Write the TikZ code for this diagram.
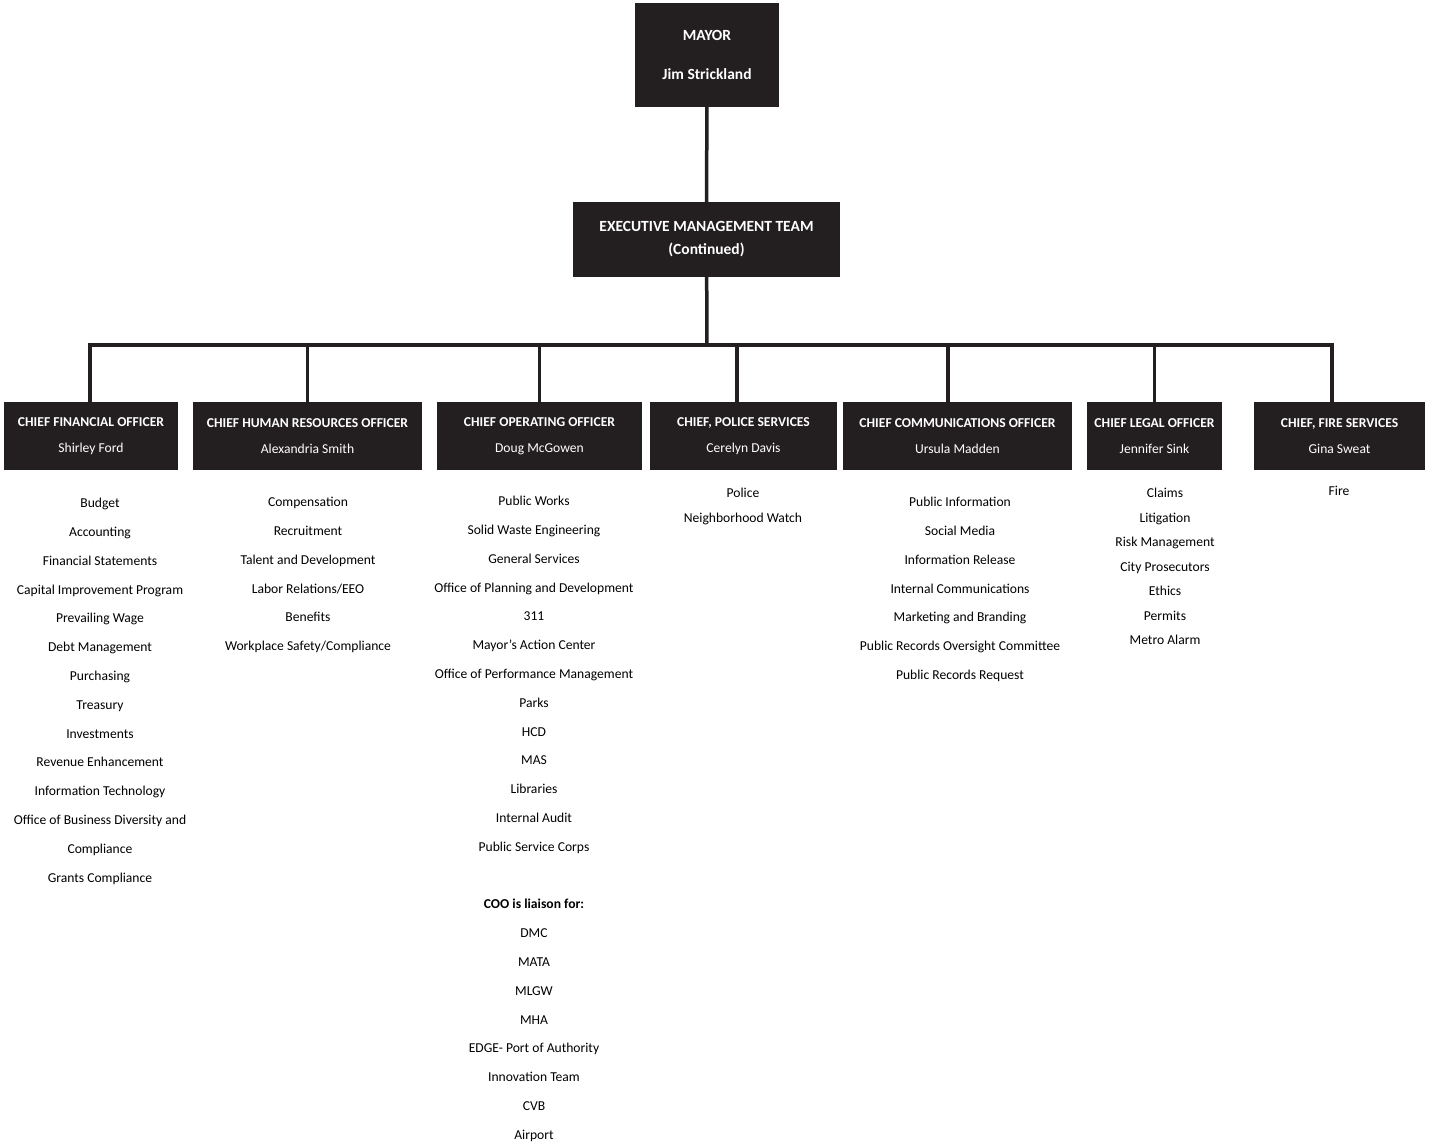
\documentclass[tikz,border=0pt]{standalone}
\usepackage{fontspec}
\setmainfont{Carlito}
\usepackage{xcolor}
\usepackage{tikz}

\definecolor{chartblack}{HTML}{231F20}

\begin{document}
\begin{tikzpicture}[x=1pt, y=-1pt,
    every node/.style={font=\fontsize{13.6}{28.8}\selectfont, inner sep=0pt},
    topbox/.style={rectangle, fill=chartblack, text=white, align=center,
                   font=\fontsize{15.5}{23}\selectfont\bfseries},
    chiefbox/.style={rectangle, fill=chartblack, text=white, align=center,
                     minimum height=68pt, font=\fontsize{13.6}{26}\selectfont},
    wire/.style={draw=chartblack, line width=3.5pt},
    duties/.style={align=center, anchor=north}
]
\useasboundingbox (0,0) rectangle (1435,1145);

% === Top: Mayor and team ===
\node[topbox, minimum width=144pt, minimum height=104pt,
      font=\fontsize{15.5}{39}\selectfont\bfseries] (mayor) at (707,55)
    {MAYOR\\Jim Strickland};

\node[topbox, minimum width=267pt, minimum height=75pt] (emt) at (706.5,239.5)
    {EXECUTIVE MANAGEMENT TEAM\\(Continued)};

\coordinate (bus) at (707,345);

% === Chiefs ===
\node[chiefbox, minimum width=174pt] (cfo) at (91,436)
    {\textbf{CHIEF FINANCIAL OFFICER}\\Shirley Ford};
\node[chiefbox, minimum width=229pt] (chro) at (307.5,436)
    {\textbf{CHIEF HUMAN RESOURCES OFFICER}\\Alexandria Smith};
\node[chiefbox, minimum width=205pt] (coo) at (539.5,436)
    {\textbf{CHIEF OPERATING OFFICER}\\Doug McGowen};
\node[chiefbox, minimum width=187pt] (police) at (743.5,436)
    {\textbf{CHIEF, POLICE SERVICES}\\Cerelyn Davis};
\node[chiefbox, minimum width=229pt] (comm) at (957.5,436)
    {\textbf{CHIEF COMMUNICATIONS OFFICER}\\Ursula Madden};
\node[chiefbox, minimum width=135pt] (legal) at (1154.5,436)
    {\textbf{CHIEF LEGAL OFFICER}\\Jennifer Sink};
\node[chiefbox, minimum width=171pt] (fire) at (1339.5,436)
    {\textbf{CHIEF, FIRE SERVICES}\\Gina Sweat};

\draw[wire] (mayor) -- (emt);
\draw[wire] (emt) -- (bus);
\draw[wire] (bus) -| ([xshift=-1pt]cfo.north);
\draw[wire] (bus) -| (chro.north);
\draw[wire] (bus) -| (coo.north);
\draw[wire] (bus) -| ([xshift=-6.5pt]police.north);
\draw[wire] (bus) -| ([xshift=-9.5pt]comm.north);
\draw[wire] (bus) -| (legal.north);
\draw[wire] (bus) -| ([xshift=-7.5pt]fire.north);

% === Duties under each chief ===
\node[duties] (cfolist) at (100,498)
    {Budget\\Accounting\\Financial Statements\\Capital Improvement Program\\
     Prevailing Wage\\Debt Management\\Purchasing\\Treasury\\Investments\\
     Revenue Enhancement\\Information Technology\\Office of Business Diversity and\\
     Compliance\\Grants Compliance};

\node[duties] (chrolist) at (308,497)
    {Compensation\\Recruitment\\Talent and Development\\Labor Relations/EEO\\
     Benefits\\Workplace Safety/Compliance};

\node[duties] (coolist) at (534,496)
    {Public Works\\Solid Waste Engineering\\General Services\\
     Office of Planning and Development\\311\\Mayor’s Action Center\\
     Office of Performance Management\\Parks\\HCD\\MAS\\Libraries\\
     Internal Audit\\Public Service Corps\\[28.8pt]
     \textbf{COO is liaison for:}\\DMC\\MATA\\MLGW\\MHA\\EDGE- Port of Authority\\
     Innovation Team\\CVB\\Airport};

\node[duties, font=\fontsize{13.6}{25}\selectfont] (policelist) at (743,488)
    {Police\\Neighborhood Watch};

\node[duties] (commlist) at (960,497)
    {Public Information\\Social Media\\Information Release\\
     Internal Communications\\Marketing and Branding\\
     Public Records Oversight Committee\\Public Records Request};

\node[duties, font=\fontsize{13.6}{24.5}\selectfont] (legallist) at (1165,488)
    {Claims\\Litigation\\Risk Management\\City Prosecutors\\Ethics\\Permits\\Metro Alarm};

\node[duties] (firelist) at (1339,486) {Fire};

\end{tikzpicture}
\end{document}
